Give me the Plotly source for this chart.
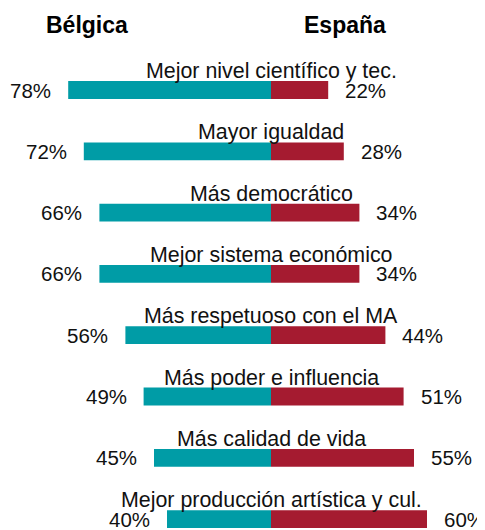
import plotly.graph_objects as go

categories = [
    "Mejor nivel científico y tec.",
    "Mayor igualdad",
    "Más democrático",
    "Mejor sistema económico",
    "Más respetuoso con el MA",
    "Más poder e influencia",
    "Más calidad de vida",
    "Mejor producción artística y cul.",
]
belgica = [78, 72, 66, 66, 56, 49, 45, 40]
espana = [22, 28, 34, 34, 44, 51, 55, 60]
series_names = ["Bélgica", "España"]

TEAL = "#009CA6"
RED = "#A51B30"
FONT = "Arial, Liberation Sans, sans-serif"

# page has an 8px body margin; figure occupies page pixels 8..485, 8..530
OFF = 8
W, H = 485 - OFF, 530 - OFF
CX, PXU = 271, 2.6          # centre x and px per percent (page pixels)
Y0, DY = 90, 61.3           # first bar centre and row spacing (page pixels)

fig = go.Figure()
fig.add_trace(go.Bar(y=categories, x=[-v for v in belgica], orientation="h",
                     marker=dict(color=TEAL, line=dict(width=0)), width=0.29,
                     name=series_names[0], hoverinfo="skip"))
fig.add_trace(go.Bar(y=categories, x=espana, orientation="h",
                     marker=dict(color=RED, line=dict(width=0)), width=0.29,
                     name=series_names[1], hoverinfo="skip"))

ann = []
for c, b, e in zip(categories, belgica, espana):
    ann.append(dict(x=0, y=c, xref="x", yref="y", text=c, showarrow=False,
                    xanchor="center", yanchor="middle", yshift=19,
                    font=dict(size=21.4, color="#111", family=FONT)))
    ann.append(dict(x=-b, y=c, xref="x", yref="y", text=f"{b}%", showarrow=False,
                    xanchor="right", yanchor="middle", xshift=-15,
                    font=dict(size=20.5, color="#111", family=FONT)))
    ann.append(dict(x=e, y=c, xref="x", yref="y", text=f"{e}%", showarrow=False,
                    xanchor="left", yanchor="middle", xshift=15,
                    font=dict(size=20.5, color="#111", family=FONT)))

ann.append(dict(x=(86.5 - OFF) / W, y=1 - (25 - OFF) / H, xref="paper", yref="paper",
                text=f"<b>{series_names[0]}</b>", showarrow=False,
                xanchor="center", yanchor="middle",
                font=dict(size=23, color="#000", family=FONT)))
ann.append(dict(x=(345 - OFF) / W, y=1 - (25 - OFF) / H, xref="paper", yref="paper",
                text=f"<b>{series_names[1]}</b>", showarrow=False,
                xanchor="center", yanchor="middle",
                font=dict(size=23, color="#000", family=FONT)))

fig.update_layout(
    width=W, height=H,
    margin=dict(l=0, r=0, t=0, b=0),
    barmode="relative",
    showlegend=False,
    paper_bgcolor="white", plot_bgcolor="white",
    xaxis=dict(range=[(OFF - CX) / PXU, (485 - CX) / PXU], visible=False, fixedrange=True),
    yaxis=dict(type="category", categoryorder="array", categoryarray=categories,
               range=[(530 - Y0) / DY, (OFF - Y0) / DY], visible=False, fixedrange=True),
    annotations=ann,
)

fig.write_html("out.html")
